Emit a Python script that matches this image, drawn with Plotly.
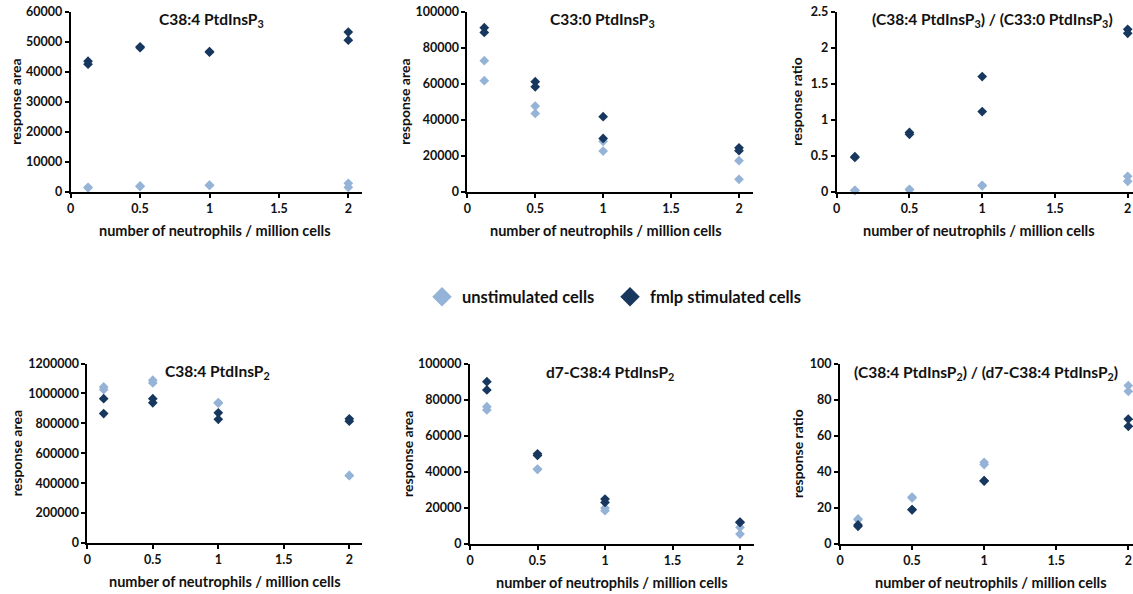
import plotly.graph_objects as go

# ---------------- data ----------------
x_vals = [0.125, 0.125, 0.5, 0.5, 1, 1, 2, 2]
x_ticks = [0, 0.5, 1, 1.5, 2]

c38_p3_unstim = [1450, 1300, 1900, 1700, 2200, 2100, 2800, 1450]
c38_p3_fmlp = [43500, 42500, 48300, 48000, 46700, 46500, 53200, 50500]

c33_p3_unstim = [72800, 61700, 47600, 43500, 28000, 22600, 17200, 6850]
c33_p3_fmlp = [91100, 88500, 61100, 58300, 41700, 29600, 24400, 22800]

ratio_p3_unstim = [0.023, 0.02, 0.037, 0.03, 0.092, 0.085, 0.217, 0.148]
ratio_p3_fmlp = [0.49, 0.48, 0.826, 0.80, 1.60, 1.116, 2.256, 2.20]

c38_p2_unstim = [1043000, 1026000, 1088000, 1070000, 939000, 935000, 450000, 452000]
c38_p2_fmlp = [965000, 865000, 965000, 937000, 870000, 827000, 830000, 814000]

d7_p2_unstim = [76300, 74500, 41600, 41400, 20000, 18500, 9240, 5540]
d7_p2_fmlp = [90200, 85600, 50100, 49200, 24950, 23100, 12200, 12000]

ratio_p2_unstim = [13.9, 13.5, 26.1, 25.6, 45.4, 44.1, 88.0, 84.8]
ratio_p2_fmlp = [10.6, 9.8, 19.1, 19.0, 35.2, 35.0, 69.4, 65.4]

series_names = ["unstimulated cells", "fmlp stimulated cells"]
titles = ["C38:4 PtdInsP<sub>3</sub>", "C33:0 PtdInsP<sub>3</sub>",
          "(C38:4 PtdInsP<sub>3</sub>) / (C33:0 PtdInsP<sub>3</sub>)",
          "C38:4 PtdInsP<sub>2</sub>", "d7-C38:4 PtdInsP<sub>2</sub>",
          "(C38:4 PtdInsP<sub>2</sub>) / (d7-C38:4 PtdInsP<sub>2</sub>)"]
y_titles = ["response area", "response area", "response ratio",
            "response area", "response area", "response ratio"]
x_title = "number of neutrophils / million cells"
y_ranges = [60000, 100000, 2.5, 1200000, 100000, 100]
y_dticks = [10000, 20000, 0.5, 200000, 20000, 20]
y_formats = ["d", "d", "", "d", "d", ""]

panels = [(c38_p3_unstim, c38_p3_fmlp), (c33_p3_unstim, c33_p3_fmlp),
          (ratio_p3_unstim, ratio_p3_fmlp), (c38_p2_unstim, c38_p2_fmlp),
          (d7_p2_unstim, d7_p2_fmlp), (ratio_p2_unstim, ratio_p2_fmlp)]

# ---------------- styling / layout ----------------
W, H = 1133, 594
LIGHT = "#95B3D7"
DARK = "#17375E"
FONT = "Lato"
TXT = "#111111"

# pixel geometry: (x_left, x_at_2, y_top, y_bottom)
geo = [(70.7, 348.3, 11.7, 191.7), (467.3, 739.0, 11.7, 191.7), (836.7, 1127.7, 11.7, 192.0),
       (87.3, 349.3, 363.5, 543.0), (470.0, 740.0, 364.0, 544.0), (840.0, 1128.3, 364.0, 544.0)]
title_pos = [(211, 20), (602, 20), (992, 20), (217, 372), (610, 373), (986, 373)]
ytitle_x = [16, 405, 797, 16, 407, 797]
xtitle_pos = [(215, 231), (606, 231), (979, 231), (225, 581), (612, 582), (991, 582)]
legend_left = [422, 610]

fig = go.Figure()
layout = {}
annotations = []
for i, (unst, fm) in enumerate(panels):
    n = "" if i == 0 else str(i + 1)
    xl, x2, yt, yb = geo[i]
    unit = (x2 - xl) / 2.0
    xmax = min(2.1, (W - xl) / unit)
    xr = xl + xmax * unit
    layout["xaxis" + n] = dict(
        domain=[xl / W, min(xr / W, 1.0)], range=[0, xmax], anchor="y" + n,
        autorange=False, automargin=False,
        tickvals=x_ticks, ticktext=["0", "0.5", "1", "1.5", "2"],
        showline=True, linecolor="#000000", linewidth=1.8,
        ticks="outside", ticklen=4, tickwidth=1.5, tickcolor="#000000",
        showgrid=False, zeroline=False,
        tickfont=dict(family=FONT, size=12.5, color=TXT, weight="bold"))
    layout["yaxis" + n] = dict(
        domain=[1 - yb / H, 1 - yt / H], range=[0, y_ranges[i]], anchor="x" + n,
        autorange=False, automargin=False,
        dtick=y_dticks[i], tick0=0, tickformat=y_formats[i], exponentformat="none",
        showline=True, linecolor="#000000", linewidth=1.8,
        ticks="outside", ticklen=4, tickwidth=1.5, tickcolor="#000000",
        showgrid=False, zeroline=False,
        tickfont=dict(family=FONT, size=12.5, color=TXT, weight="bold"))
    for vals, col, name in ((unst, LIGHT, series_names[0]), (fm, DARK, series_names[1])):
        fig.add_trace(go.Scatter(
            x=x_vals, y=vals, mode="markers", name=name, showlegend=False,
            marker=dict(symbol="diamond", size=7.5, color=col, line=dict(width=0)),
            xaxis="x" + n, yaxis="y" + n, cliponaxis=False))
    tx, ty = title_pos[i]
    annotations.append(dict(text=titles[i], x=tx / W, y=1 - ty / H, xref="paper", yref="paper",
                            showarrow=False, xanchor="center", yanchor="middle",
                            font=dict(family=FONT, size=15.5, color=TXT, weight="bold")))
    annotations.append(dict(text=y_titles[i], x=ytitle_x[i] / W, y=1 - (yt + yb) / 2 / H,
                            xref="paper", yref="paper", showarrow=False, textangle=-90,
                            xanchor="center", yanchor="middle",
                            font=dict(family=FONT, size=14, color=TXT, weight="bold")))
    ax, ay = xtitle_pos[i]
    annotations.append(dict(text=x_title, x=ax / W, y=1 - ay / H, xref="paper", yref="paper",
                            showarrow=False, xanchor="center", yanchor="middle",
                            font=dict(family=FONT, size=14.5, color=TXT, weight="bold")))

# legend-only entries, each in its own legend box
legend_names = ["legend", "legend2"]
for k, (col, name) in enumerate(((LIGHT, series_names[0]), (DARK, series_names[1]))):
    fig.add_trace(go.Scatter(x=[None], y=[None], mode="markers", name=name,
                             marker=dict(symbol="diamond", size=15, color=col),
                             xaxis="x", yaxis="y", showlegend=True, legend=legend_names[k]))
    layout[legend_names[k]] = dict(
        orientation="h", x=legend_left[k] / W, y=1 - 297 / H, xanchor="left", yanchor="middle",
        font=dict(family=FONT, size=16.5, color=TXT, weight="bold"),
        itemsizing="trace", itemwidth=30, bgcolor="rgba(0,0,0,0)")

fig.update_layout(
    template="none",
    width=W, height=H, margin=dict(l=0, r=0, t=0, b=0, autoexpand=False),
    paper_bgcolor="white", plot_bgcolor="white",
    showlegend=True,
    annotations=annotations,
    **layout)

fig.write_html(
    "out.html",
    config={"displayModeBar": False},
    post_script="document.body.style.margin='0';document.body.style.overflow='hidden';"
)
